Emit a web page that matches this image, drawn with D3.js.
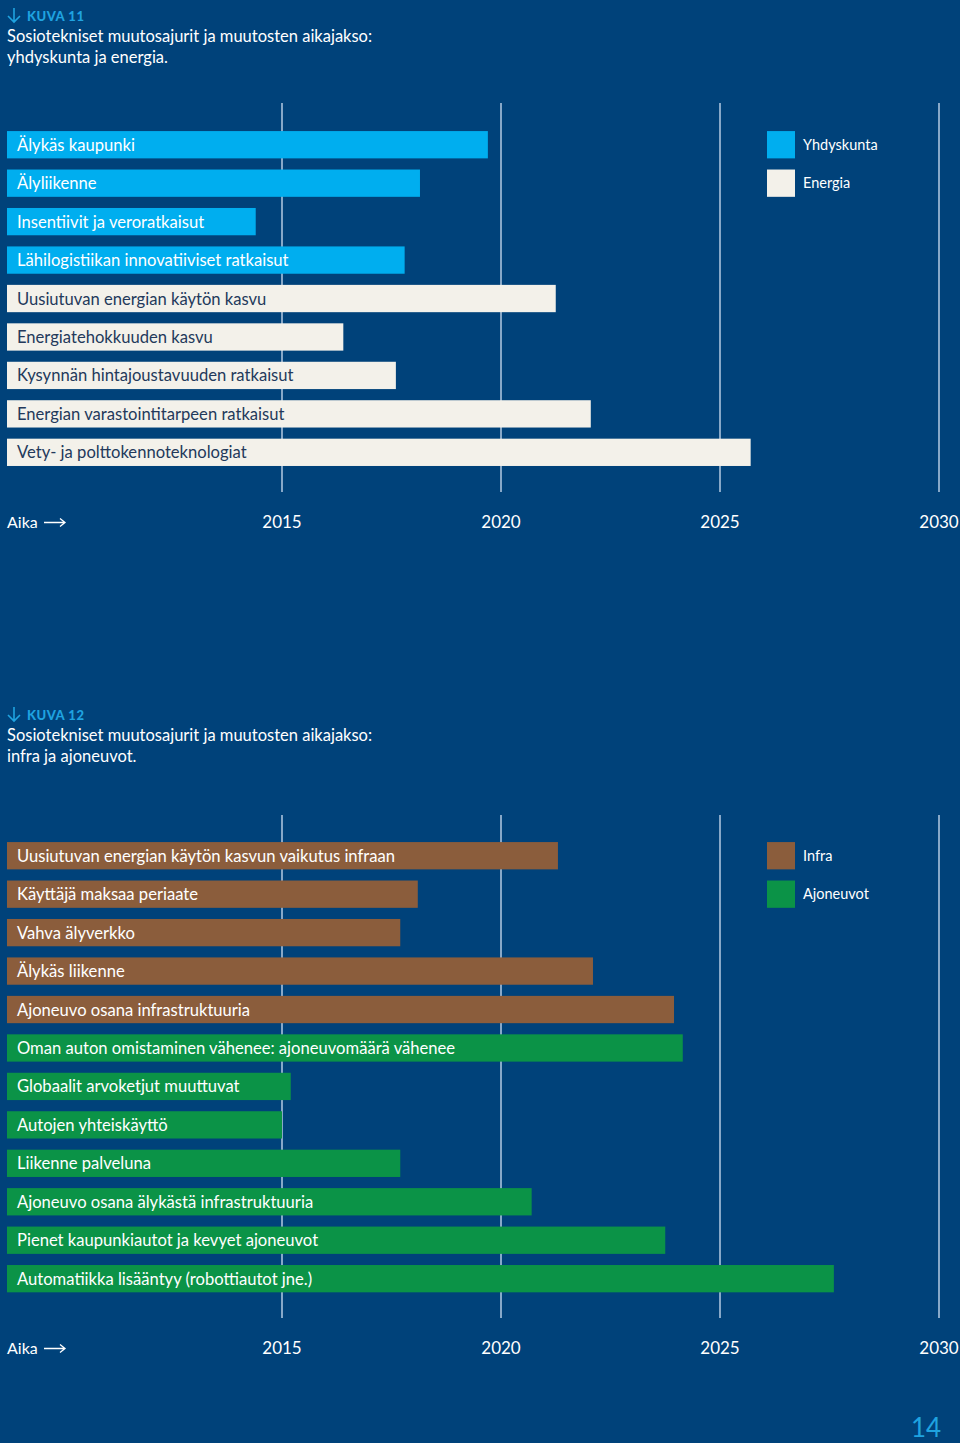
<!DOCTYPE html>
<html lang="fi">
<head>
<meta charset="utf-8">
<title>Kuva 11 ja 12</title>
<script src="https://cdn.jsdelivr.net/npm/d3@7"></script>
<style>
  html, body { margin: 0; padding: 0; background: #00427a; }
  svg { display: block; font-family: Lato, "Open Sans", sans-serif; }
</style>
</head>
<body>
<script>

var width = 960;
var height = 1443;

// tick years on the time axis
var years = [2015, 2020, 2025, 2030];

// figure 11: community and energy
var labels11 = ["Älykäs kaupunki", "Älyliikenne", "Insentiivit ja veroratkaisut",
  "Lähilogistiikan innovatiiviset ratkaisut", "Uusiutuvan energian käytön kasvu",
  "Energiatehokkuuden kasvu", "Kysynnän hintajoustavuuden ratkaisut",
  "Energian varastointitarpeen ratkaisut", "Vety- ja polttokennoteknologiat"];
var ends11 = [2019.7, 2018.15, 2014.4, 2017.8, 2021.25, 2016.4, 2017.6, 2022.05, 2025.7];
var groups11 = ["Yhdyskunta", "Yhdyskunta", "Yhdyskunta", "Yhdyskunta",
  "Energia", "Energia", "Energia", "Energia", "Energia"];
var legend11 = ["Yhdyskunta", "Energia"];

// figure 12: infrastructure and vehicles
var labels12 = ["Uusiutuvan energian käytön kasvun vaikutus infraan", "Käyttäjä maksaa periaate",
  "Vahva älyverkko", "Älykäs liikenne", "Ajoneuvo osana infrastruktuuria",
  "Oman auton omistaminen vähenee: ajoneuvomäärä vähenee", "Globaalit arvoketjut muuttuvat",
  "Autojen yhteiskäyttö", "Liikenne palveluna", "Ajoneuvo osana älykästä infrastruktuuria",
  "Pienet kaupunkiautot ja kevyet ajoneuvot", "Automatiikka lisääntyy (robottiautot jne.)"];
var ends12 = [2021.3, 2018.1, 2017.7, 2022.1, 2023.95, 2024.15, 2015.2, 2015.0, 2017.7, 2020.7, 2023.75, 2027.6];
var groups12 = ["Infra", "Infra", "Infra", "Infra", "Infra",
  "Ajoneuvot", "Ajoneuvot", "Ajoneuvot", "Ajoneuvot", "Ajoneuvot", "Ajoneuvot", "Ajoneuvot"];
var legend12 = ["Infra", "Ajoneuvot"];

var fill = d3.scaleOrdinal()
  .domain(["Yhdyskunta", "Energia", "Infra", "Ajoneuvot"])
  .range(["#00aeef", "#f3f1ea", "#8b5d3c", "#0b9347"]);
var textFill = d3.scaleOrdinal()
  .domain(["Yhdyskunta", "Energia", "Infra", "Ajoneuvot"])
  .range(["#ffffff", "#23395b", "#ffffff", "#ffffff"]);

var x = d3.scaleLinear().domain([2015, 2030]).range([282, 939]);
var barLeft = 7;

var svg = d3.select("body").append("svg")
  .attr("width", width)
  .attr("height", height);

function drawPanel(top, num, line1, line2, labels, ends, groups, legend, gridTop, gridBottom, firstBar, axisY) {
  var g = svg.append("g");

  // heading with arrow
  g.append("path")
    .attr("d", "M14," + (top + 2) + "V" + (top + 16) + "M8," + (top + 10) + "L14," + (top + 16) + "L20," + (top + 10))
    .attr("fill", "none")
    .attr("stroke", "#1fa3e0")
    .attr("stroke-width", 1.6);
  g.append("text")
    .attr("x", 27).attr("y", top + 15)
    .attr("fill", "#1fa3e0")
    .attr("font-size", 13)
    .attr("font-weight", 900)
    .attr("letter-spacing", 0.5)
    .text("KUVA " + num);
  g.append("text")
    .attr("x", 7).attr("y", top + 36)
    .attr("fill", "#ffffff").attr("font-size", 16.5)
    .text(line1);
  g.append("text")
    .attr("x", 7).attr("y", top + 57)
    .attr("fill", "#ffffff").attr("font-size", 16.5)
    .text(line2);

  // gridlines
  g.selectAll(".grid")
    .data(years)
    .enter().append("line")
    .attr("x1", function(d) { return x(d); })
    .attr("x2", function(d) { return x(d); })
    .attr("y1", gridTop)
    .attr("y2", gridBottom)
    .attr("stroke", "#b4cbe3")
    .attr("stroke-width", 1.5);

  var y = d3.scaleBand()
    .domain(labels)
    .range([firstBar, firstBar + labels.length * 38.45])
    .paddingInner(0.29)
    .paddingOuter(0.145);

  var bars = g.selectAll(".bar")
    .data(labels)
    .enter().append("g");

  bars.append("rect")
    .attr("x", barLeft)
    .attr("y", function(d) { return y(d); })
    .attr("width", function(d, i) { return x(ends[i]) - barLeft; })
    .attr("height", y.bandwidth())
    .attr("fill", function(d, i) { return fill(groups[i]); });

  bars.append("text")
    .attr("x", 17)
    .attr("y", function(d) { return y(d) + y.bandwidth() / 2; })
    .attr("dy", "0.36em")
    .attr("font-size", 16.6)
    .attr("fill", function(d, i) { return textFill(groups[i]); })
    .text(function(d) { return d; });

  // legend
  var leg = g.selectAll(".legend")
    .data(legend)
    .enter().append("g");
  leg.append("rect")
    .attr("x", 767)
    .attr("y", function(d, i) { return y(labels[i]); })
    .attr("width", 28)
    .attr("height", y.bandwidth())
    .attr("fill", function(d) { return fill(d); });
  leg.append("text")
    .attr("x", 803)
    .attr("y", function(d, i) { return y(labels[i]) + y.bandwidth() / 2; })
    .attr("dy", "0.36em")
    .attr("font-size", 14.5)
    .attr("fill", "#ffffff")
    .text(function(d) { return d; });

  // time axis
  g.selectAll(".year")
    .data(years)
    .enter().append("text")
    .attr("x", function(d) { return x(d); })
    .attr("y", axisY)
    .attr("text-anchor", "middle")
    .attr("font-size", 17)
    .attr("fill", "#ffffff")
    .text(function(d) { return d; });
  g.append("text")
    .attr("x", 7).attr("y", axisY)
    .attr("font-size", 16)
    .attr("fill", "#ffffff")
    .text("Aika");
  g.append("path")
    .attr("d", "M44," + (axisY - 5.5) + "H65M60," + (axisY - 9.5) + "L65," + (axisY - 5.5) + "L60," + (axisY - 1.5))
    .attr("fill", "none")
    .attr("stroke", "#ffffff")
    .attr("stroke-width", 1.3);
}

drawPanel(6, 11, "Sosiotekniset muutosajurit ja muutosten aikajakso:", "yhdyskunta ja energia.",
  labels11, ends11, groups11, legend11, 103, 492, 125.5, 528);

drawPanel(705, 12, "Sosiotekniset muutosajurit ja muutosten aikajakso:", "infra ja ajoneuvot.",
  labels12, ends12, groups12, legend12, 815, 1318, 836.5, 1354);

// page number
svg.append("text")
  .attr("x", 911).attr("y", 1437)
  .attr("font-size", 26)
  .attr("fill", "#1fa3e0")
  .text("14");

</script>
</body>
</html>
